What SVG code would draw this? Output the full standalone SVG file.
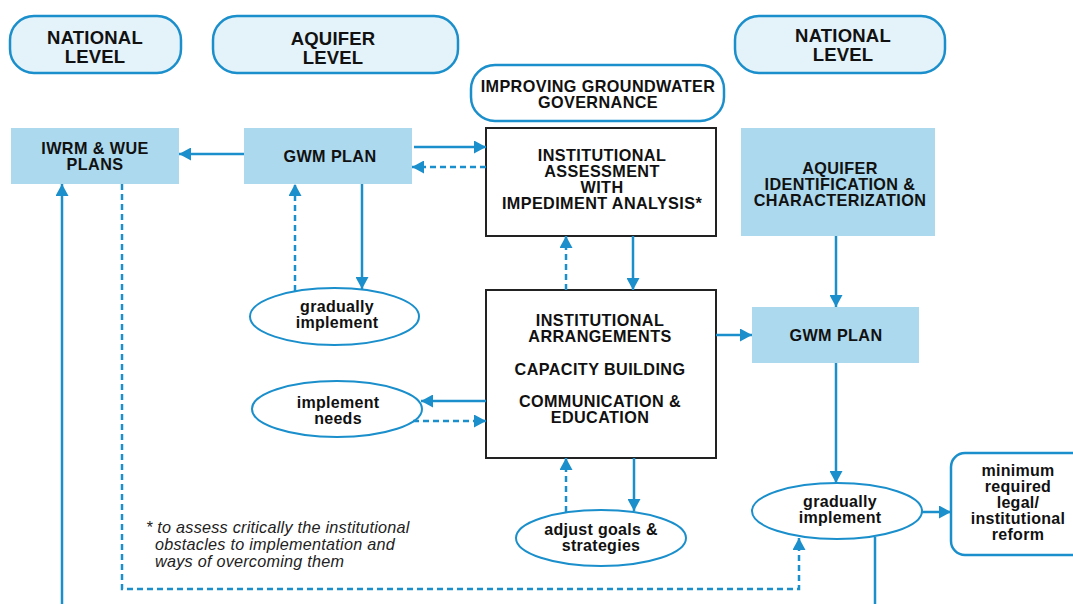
<svg xmlns="http://www.w3.org/2000/svg" width="1073" height="604" viewBox="0 0 1073 604">
<style>
.pill{fill:#e4f2f9;stroke:#1a8fcb;stroke-width:2.5}
.pillw{fill:#fff;stroke:#1a8fcb;stroke-width:2.5}
.box{fill:#acd9ed}
.bbox{fill:#fff;stroke:#222;stroke-width:2}
.ell{fill:#fff;stroke:#1a8fcb;stroke-width:2}
.h{font-family:"Liberation Sans",Arial,sans-serif;font-weight:bold;font-size:18.5px;fill:#111;text-anchor:middle;letter-spacing:0.2px}
.t{font-family:"Liberation Sans",Arial,sans-serif;font-weight:bold;font-size:16.2px;fill:#111;text-anchor:middle;letter-spacing:0.4px}
.e{font-family:"Liberation Sans",Arial,sans-serif;font-weight:bold;font-size:16px;fill:#111;text-anchor:middle;letter-spacing:0.3px}
.n{font-family:"Liberation Sans",Arial,sans-serif;font-style:italic;font-size:16.2px;fill:#222;letter-spacing:0.25px}
.c{fill:none;stroke:#1a8fcb;stroke-width:2.5;marker-end:url(#ah)}
.d{stroke-dasharray:6 4}
.p{fill:none;stroke:#1a8fcb;stroke-width:2.5}
</style>
<defs>
<marker id="ah" markerUnits="userSpaceOnUse" markerWidth="13" markerHeight="13" refX="12" refY="6.5" orient="auto" viewBox="0 0 13 13">
<path d="M0,0 L12,6.5 L0,13 z" fill="#1a8fcb"/>
</marker>
</defs>
<rect width="1073" height="604" fill="#fff"/>

<g id="national-level-left">
<rect class="pill" x="10" y="16" width="171" height="57" rx="24"/>
<text class="h" x="95" y="44">NATIONAL</text>
<text class="h" x="95" y="63">LEVEL</text>
</g>
<g id="aquifer-level">
<rect class="pill" x="213" y="16" width="245" height="57" rx="24"/>
<text class="h" x="333" y="45">AQUIFER</text>
<text class="h" x="333" y="64">LEVEL</text>
</g>
<g id="improving-governance">
<rect class="pillw" x="471" y="65" width="253" height="56" rx="24"/>
<text class="t" x="598" y="92">IMPROVING GROUNDWATER</text>
<text class="t" x="598" y="108">GOVERNANCE</text>
</g>
<g id="national-level-right">
<rect class="pill" x="735" y="16" width="210" height="57" rx="24"/>
<text class="h" x="843" y="42">NATIONAL</text>
<text class="h" x="843" y="61">LEVEL</text>
</g>

<g id="iwrm-plans">
<rect class="box" x="11" y="128" width="168" height="56"/>
<text class="t" x="95" y="154">IWRM &amp; WUE</text>
<text class="t" x="95" y="170">PLANS</text>
</g>
<g id="gwm-plan-top">
<rect class="box" x="244" y="128" width="168" height="56"/>
<text class="t" x="330" y="162">GWM PLAN</text>
</g>
<g id="institutional-assessment">
<rect class="bbox" x="486" y="128" width="230" height="108"/>
<text class="t" x="602" y="161">INSTITUTIONAL</text>
<text class="t" x="602" y="177">ASSESSMENT</text>
<text class="t" x="602" y="193">WITH</text>
<text class="t" x="602" y="209">IMPEDIMENT ANALYSIS*</text>
</g>
<g id="aquifer-identification">
<rect class="box" x="741" y="128" width="194" height="108"/>
<text class="t" x="840" y="174">AQUIFER</text>
<text class="t" x="840" y="190">IDENTIFICATION &amp;</text>
<text class="t" x="840" y="206">CHARACTERIZATION</text>
</g>
<g id="institutional-arrangements">
<rect class="bbox" x="486" y="290" width="230" height="168"/>
<text class="t" x="600" y="326">INSTITUTIONAL</text>
<text class="t" x="600" y="342">ARRANGEMENTS</text>
<text class="t" x="600" y="375">CAPACITY BUILDING</text>
<text class="t" x="600" y="407">COMMUNICATION &amp;</text>
<text class="t" x="600" y="423">EDUCATION</text>
</g>
<g id="gwm-plan-right">
<rect class="box" x="752" y="307" width="167" height="56"/>
<text class="t" x="836" y="341">GWM PLAN</text>
</g>
<g id="gradually-implement-left">
<ellipse class="ell" cx="334.5" cy="316.5" rx="84.5" ry="28.5"/>
<text class="e" x="337" y="312">gradually</text>
<text class="e" x="337" y="328">implement</text>
</g>
<g id="implement-needs">
<ellipse class="ell" cx="337" cy="409" rx="85" ry="28"/>
<text class="e" x="338" y="408">implement</text>
<text class="e" x="338" y="424">needs</text>
</g>
<g id="adjust-goals">
<ellipse class="ell" cx="601" cy="538" rx="85" ry="28"/>
<text class="e" x="601" y="535">adjust goals &amp;</text>
<text class="e" x="601" y="551">strategies</text>
</g>
<g id="gradually-implement-right">
<ellipse class="ell" cx="837" cy="511" rx="85" ry="28"/>
<text class="e" x="840" y="507">gradually</text>
<text class="e" x="840" y="523">implement</text>
</g>
<g id="minimum-reform">
<rect class="pillw" x="951" y="453" width="140" height="102" rx="14"/>
<text class="e" x="1018" y="476">minimum</text>
<text class="e" x="1018" y="492">required</text>
<text class="e" x="1018" y="508">legal/</text>
<text class="e" x="1018" y="524">institutional</text>
<text class="e" x="1018" y="540">reform</text>
</g>

<g id="footnote">
<text class="n" x="146" y="533">* to assess critically the institutional</text>
<text class="n" x="155" y="550">obstacles to implementation and</text>
<text class="n" x="155" y="567">ways of overcoming them</text>
</g>

<g id="connectors">
<path class="c" d="M244,154 L179,154"/>
<path class="c" d="M414,147 L486,147"/>
<path class="c d" d="M486,167 L412,167"/>
<path class="c" d="M362,184 L362,289"/>
<path class="c d" d="M295,291 L295,184"/>
<path class="c" d="M62,604 L62,184"/>
<path class="c d" d="M122,184 L122,589 L799,589 L799,538"/>
<path class="c" d="M633,236 L633,290"/>
<path class="c d" d="M566,290 L566,236"/>
<path class="c" d="M716,335 L752,335"/>
<path class="c" d="M486,401 L421,401"/>
<path class="c d" d="M413,421 L486,421"/>
<path class="c" d="M634,458 L634,511"/>
<path class="c d" d="M566,512 L566,458"/>
<path class="c" d="M836,236 L836,307"/>
<path class="c" d="M836,363 L836,483"/>
<path class="c" d="M922,512 L951,512"/>
<path class="p" d="M875,537 L875,604"/>
</g>
</svg>
